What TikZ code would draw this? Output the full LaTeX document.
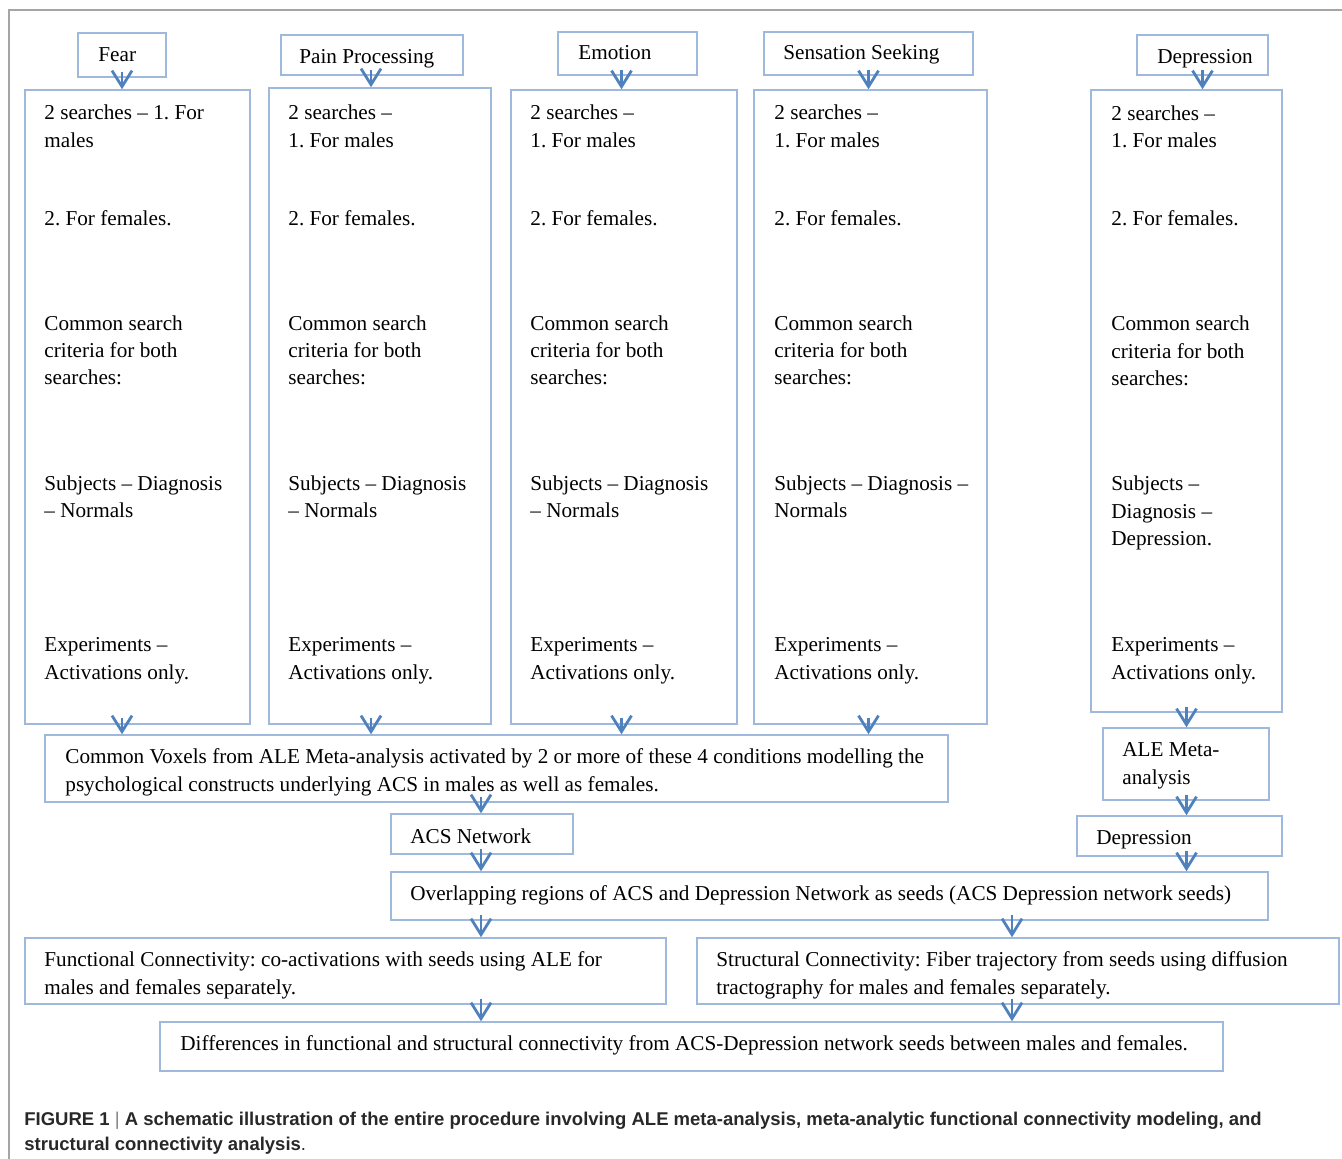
\documentclass[tikz,border=0pt]{standalone}
\usepackage{fontspec}
\setmainfont{Liberation Serif}
\newfontfamily\capfont{Liberation Sans}
\usetikzlibrary{arrows.meta,calc,fit,positioning}
\frenchspacing

\definecolor{boxblue}{RGB}{158,185,220}
\definecolor{arrowblue}{RGB}{79,129,189}
\definecolor{framegray}{RGB}{165,165,165}
\definecolor{capgray}{RGB}{40,40,40}

\tikzset{
  box/.style={draw=boxblue,line width=0.75pt,inner sep=0pt},
  txt/.style={anchor=base west,inner sep=0pt,align=left,font=\fontsize{10.6}{13.7}\selectfont},
  arr/.style={draw=arrowblue,line width=1.4pt,-{Straight Barb[length=8pt,width=10pt]}}
}

\begin{document}
\begin{tikzpicture}[x=0.5pt,y=-0.5pt]
  \useasboundingbox (0,0) rectangle (1342,1159);
  \draw[framegray,line width=1pt] (9,1159) -- (9,10) -- (1342,10);

  % condition labels
  \node[box,fit={(78,33) (166,77)}] (fearL) {};
  \node[box,fit={(281,35) (463,75)}] (painL) {};
  \node[box,fit={(558,32) (697,75)}] (emoL) {};
  \node[box,fit={(764,32) (973,75)}] (sensL) {};
  \node[box,fit={(1137,35) (1268,75)}] (depL) {};
  \node[txt] (fearLT) at (98,62) {Fear};
  \node[txt] (painLT) at (299,64) {Pain Processing};
  \node[txt] (emoLT) at (578,60) {Emotion};
  \node[txt] (sensLT) at (783,60) {Sensation Seeking};
  \node[txt] (depLT) at (1157,64) {Depression};

  % search boxes (text anchored at its last line)
  \node[box,fit={(25,90) (250,724)}] (fearB) {};
  \node[box,fit={(269,88) (491,724)}] (painB) {};
  \node[box,fit={(511,90) (737,724)}] (emoB) {};
  \node[box,fit={(754,90) (987,724)}] (sensB) {};
  \node[box,fit={(1091,90) (1282,712)}] (depB) {};

  \node[txt] (fearT) at (44,679) {2 searches -- 1. For\\males\\[25.25pt]2. For females.\\[38.75pt]Common search\\criteria for both\\searches:\\[39pt]Subjects -- Diagnosis\\-- Normals\\[53.25pt]Experiments --\\Activations only.};
  \node[txt] (painT) at (288,679) {2 searches --\\1. For males\\[25.25pt]2. For females.\\[38.75pt]Common search\\criteria for both\\searches:\\[39pt]Subjects -- Diagnosis\\-- Normals\\[53.25pt]Experiments --\\Activations only.};
  \node[txt] (emoT) at (530,679) {2 searches --\\1. For males\\[25.25pt]2. For females.\\[38.75pt]Common search\\criteria for both\\searches:\\[39pt]Subjects -- Diagnosis\\-- Normals\\[53.25pt]Experiments --\\Activations only.};
  \node[txt] (sensT) at (774,679) {2 searches --\\1. For males\\[25.25pt]2. For females.\\[38.75pt]Common search\\criteria for both\\searches:\\[39pt]Subjects -- Diagnosis --\\Normals\\[53.25pt]Experiments --\\Activations only.};
  \node[txt] (depT) at (1111,679) {2 searches --\\1. For males\\[25.25pt]2. For females.\\[38.75pt]Common search\\criteria for both\\searches:\\[39pt]Subjects --\\Diagnosis --\\Depression.\\[39.25pt]Experiments --\\Activations only.};

  % lower flow
  \node[box,fit={(45,735) (948,802)}] (voxB) {};
  \node[box,fit={(1103,728) (1269,800)}] (aleB) {};
  \node[box,fit={(391,814) (573,854)}] (acsB) {};
  \node[box,fit={(1077,816) (1282,856)}] (dep2B) {};
  \node[box,fit={(391,872) (1268,920)}] (overB) {};
  \node[box,fit={(25,938) (666,1004)}] (funcB) {};
  \node[box,fit={(697,938) (1339,1004)}] (structB) {};
  \node[box,fit={(160,1022) (1223,1071)}] (diffB) {};

  \node[txt] (voxT) at (65,791) {Common Voxels from ALE Meta-analysis activated by 2 or more of these 4 conditions modelling the\\psychological constructs underlying ACS in males as well as females.};
  \node[txt] (aleT) at (1122,784) {ALE Meta-\\analysis};
  \node[txt] (acsT) at (410,843) {ACS Network};
  \node[txt] (dep2T) at (1096,844) {Depression};
  \node[txt] (overT) at (410,900) {Overlapping regions of ACS and Depression Network as seeds (ACS Depression network seeds)};
  \node[txt] (funcT) at (44,994) {Functional Connectivity: co-activations with seeds using ALE for\\males and females separately.};
  \node[txt] (structT) at (716,994) {Structural Connectivity: Fiber trajectory from seeds using diffusion\\tractography for males and females separately.};
  \node[txt] (diffT) at (180,1050) {Differences in functional and structural connectivity from ACS-Depression network seeds between males and females.};

  % arrows
  \draw[arr] ($(fearL.south)+(0,-6)$) -- (fearL.south |- fearB.north);
  \draw[arr] ($(painL.south)+(-1,-6)$) -- ($(painL.south |- painB.north)+(-1,0)$);
  \draw[arr] ($(emoL.south)+(-6,-6)$) -- ($(emoL.south |- emoB.north)+(-6,0)$);
  \draw[arr] ($(sensL.south)+(0,-6)$) -- (sensL.south |- sensB.north);
  \draw[arr] ($(depL.south)+(0,-6)$) -- (depL.south |- depB.north);

  \draw[arr] ($(fearL |- fearB.south)+(0,-7)$) -- (fearL |- voxB.north);
  \draw[arr] ($(painL |- painB.south)+(-1,-7)$) -- ($(painL |- voxB.north)+(-1,0)$);
  \draw[arr] ($(emoL |- emoB.south)+(-6,-7)$) -- ($(emoL |- voxB.north)+(-6,0)$);
  \draw[arr] ($(sensL |- sensB.south)+(0,-7)$) -- (sensL |- voxB.north);

  \draw[arr] ($(depB.south)+(0,-6)$) -- (depB.south |- aleB.north);
  \draw[arr] ($(depB |- aleB.south)+(0,-6)$) -- (depB |- dep2B.north);
  \draw[arr] ($(depB |- dep2B.south)+(0,-6)$) -- (depB |- overB.north);

  \draw[arr] ($(acsB |- voxB.south)+(-1,-6)$) -- ($(acsB.north)+(-1,0)$);
  \draw[arr] ($(acsB.south)+(-1,-6)$) -- ($(acsB |- overB.north)+(-1,0)$);
  \draw[arr] ($(acsB |- overB.south)+(-1,-6)$) -- ($(acsB |- funcB.north)+(-1,0)$);
  \draw[arr] ($(structB |- overB.south)+(-6,-6)$) -- ($(structB.north)+(-6,0)$);
  \draw[arr] ($(acsB |- funcB.south)+(-1,-6)$) -- ($(acsB |- diffB.north)+(-1,0)$);
  \draw[arr] ($(structB.south)+(-6,-6)$) -- ($(structB |- diffB.north)+(-6,0)$);

  % caption
  \node[anchor=base west,inner sep=0pt,align=left,text=capgray,
        font=\capfont\fontsize{9.25}{12.5}\selectfont] (cap) at (24,1150)
    {\textbf{FIGURE 1} {\color{gray}|} \textbf{A schematic illustration of the entire procedure involving ALE meta-analysis, meta-analytic functional connectivity modeling, and}\\
     \textbf{structural connectivity analysis}.};
\end{tikzpicture}
\end{document}
